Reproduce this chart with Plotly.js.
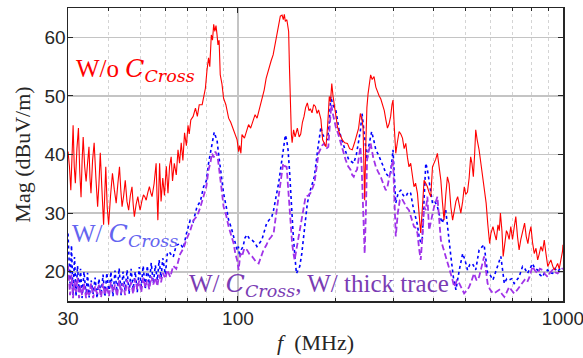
<!DOCTYPE html>
<html>
<head>
<meta charset="utf-8">
<script src="https://cdn.plot.ly/plotly-3.0.1.min.js"></script>
<style>
  html, body { margin: 0; padding: 0; background: #ffffff; }
  #chart { width: 583px; height: 358px; }
</style>
</head>
<body>
<div id="chart"></div>
<script>
// Radiated emission spectra, [frequency (MHz), magnitude (dBuV/m)]

// Without the cross capacitor
const withoutCross = [
  [30.0,40.5],[30.3,38],[30.6,33.9],[30.85,42],[31.1,45.0],[31.35,38],[31.6,35.1],[31.95,41],
  [32.3,44.5],[32.6,37],[32.9,32.7],[33.15,39],[33.4,43.0],[33.75,38],[34.1,35.4],[34.45,38.5],
  [34.8,41.3],[35.05,36],[35.3,33.4],[35.7,39],[36.1,42.0],[36.55,36],[37.0,31.1],[37.35,35],
  [37.7,40.3],[38.15,34],[38.6,28.0],[38.9,33],[39.2,37.9],[39.6,31],[40.0,28.0],[40.55,33],
  [41.1,36.8],[41.65,34],[42.2,31.7],[42.7,35],[43.2,37.9],[43.6,34],[44.0,31.1],[44.5,33],
  [45.0,35.6],[45.55,32],[46.1,30.5],[46.65,33],[47.2,34.5],[47.6,31.5],[48.0,29.4],[48.6,31.5],
  [49.2,32.8],[49.6,31.5],[50.0,30.5],[50.6,32],[51.2,33.1],[51.7,32.8],[52.2,32.2],[52.8,33.5],
  [53.4,34.5],[53.9,33.5],[54.4,32.8],[55.2,35],[56.0,38.5],[56.35,33],[56.7,28.8],[57.4,38.5],
  [58.0,32],[58.7,36],[59.4,33],[60.2,38],[60.9,33.4],[61.6,38],[62.3,39.6],[62.9,35.5],
  [63.7,38.5],[64.6,36.5],[65.4,40.8],[66.1,38.5],[66.9,42],[67.7,39],[68.5,43.7],[69.4,41.5],
  [70.2,45],[70.8,43.5],[71.6,45.9],[72.8,46.5],[74.0,47.9],[75.0,46.5],[76.0,48.5],[77.6,48.5],
  [78.4,50],[79.4,51.3],[80.3,54.4],[81.2,56.5],[81.9,55],[82.8,60.4],[83.5,59.5],[84.2,62.2],
  [84.9,61],[85.6,62],[86.2,60.5],[86.8,58.7],[87.5,59.5],[88.2,53.6],[89.3,52],[90.3,49.6],
  [91.8,48.5],[93.6,46.2],[95.0,45.5],[97.0,44],[98.2,43.5],[99.4,42.5],[100.5,40.5],[101.2,41.5],
  [102.1,40.2],[102.9,43.4],[104.7,42.8],[106.1,44],[107.8,45.1],[109.4,44.5],[111.3,45.8],[112.9,46.8],
  [114.5,46.2],[116.2,47.5],[118.4,49.6],[120.4,51],[122.1,53],[124.1,54.5],[126.5,56],[128.3,57],
  [130.6,59.3],[132.4,60.5],[134.0,62],[135,63.6],[136.7,63.8],[137.9,63.0],[138.9,63.9],[139.9,62.7],
  [141.4,63],[142.4,62],[143.2,61],[144.0,55],[145,48],[146.0,43.4],[146.8,42.0],[148.3,44.2],
  [149.9,43],[152.3,44.5],[154.3,43],[156,43.5],[157.9,45.5],[159.7,46.5],[161.5,48],[163.5,48.8],
  [165.4,47.5],[167,47.8],[169,47.1],[171.0,48.5],[173.1,48.2],[175.1,47],[177,47.6],[180,46],
  [182.2,42.5],[184.2,42],[186.6,41.3],[188.8,45],[191,49.9],[192.6,49],[194.4,52.1],[196.1,50],
  [197.6,48.8],[200,47],[202.4,44.7],[205.6,43.5],[209.5,42.5],[213,42],[217.2,41.9],[220.5,41],
  [224.7,40.8],[228.4,42],[232.5,43.6],[235.1,44.5],[238,47.0],[240.6,46],[242.6,44.7],[244,38],
  [245.4,32.2],[247.5,42],[249.3,48],[251.4,50.4],[253.7,52],[256,53.6],[258.8,52.8],[262.2,53.3],
  [265.6,51.5],[268.6,50.7],[272,50],[275,49.5],[278.3,48.7],[282,47.5],[285,46],[288.4,44.5],
  [291.6,45.2],[295,46.5],[297.8,48.5],[300,49.3],[302.5,45],[305.9,40.2],[309.2,42],[313.2,43.9],
  [317,43.5],[320.8,42.8],[324.6,41],[328.4,41.9],[332.3,39.5],[335.9,37.9],[340,38.5],[344.1,36],
  [348,34.5],[352,35.1],[356.6,33.4],[360.7,30],[365,26.6],[369.5,31],[373.8,35.6],[378.4,35.1],
  [382.7,34.5],[387.4,33.5],[392,32.8],[396.8,37.9],[401.4,38.5],[406.1,39.2],[410.8,40.2],[415.6,38],
  [421,35.6],[425.6,32],[430.6,28.8],[435.8,33],[441.1,36.2],[446.4,35],[452,31],[457.6,28.8],
  [463,30.5],[468.5,32],[474.3,32.8],[479.8,31],[485,30.0],[491.4,32],[497,34.5],[502.1,33.2],
  [508.5,33.6],[514.4,36],[520,39.6],[524.8,38.5],[530,36.2],[534.8,40],[539,44.2],[544.6,42.5],
  [552,40.8],[559,38.5],[565.9,36.2],[572,34],[580.3,31.7],[587.3,28],[594.8,24.8],[600,26.5],
  [609,27.7],[616,26.5],[623.6,25.4],[631,28],[637,27],[642,30.0],[649,27],[654.8,22.6],
  [663,25],[670,27],[675,26.6],[683,25.5],[691,27.7],[699.5,25.5],[707.6,27.5],[716,29.4],
  [724.6,26],[733,23.7],[742,25.5],[751,27],[762,28.3],[771,26],[780,24.8],[788,26.5],
  [797,27.7],[806,25],[816,23.1],[826,24],[836,22.0],[845,23],[855,24.3],[865.7,23.5],
  [876,25.4],[887,23],[898,20.9],[908,21.5],[918,22.0],[929.5,21],[940,20.3],[952,20.8],
  [963,21.4],[974,20.5],[986,22],[997,23.5],[1000,24.6]
];

// With the cross capacitor
const withCross = [
  [30.0,26.5],[30.43,18],[30.75,24.5],[31.08,16],[31.41,22.5],[31.75,15.8],[32.09,21],[32.43,16.5],
  [32.78,20.5],[33.13,15.5],[33.6,20],[34.1,16],[34.45,19.8],[34.85,15.6],[35.35,18.5],[35.85,16.2],
  [36.35,19],[36.85,15.5],[37.35,18.8],[37.9,16],[38.45,19.5],[38.95,15.7],[39.5,19.8],[40.1,16.3],
  [40.65,20],[41.25,15.8],[41.85,20.2],[42.45,16.5],[43.1,20.6],[43.7,16],[44.3,20],[44.95,16.8],
  [45.6,20.3],[46.25,16.2],[46.9,20.5],[47.6,17],[48.3,20],[49.0,16.5],[49.7,20.8],[50.4,17.5],
  [51.1,21],[51.85,17],[52.6,21],[53.35,17.8],[54.1,21.5],[54.9,18],[55.7,21.1],[56.5,18.5],
  [57.2,22],[58.0,19],[58.7,22.3],[59.8,19.5],[60.6,23],[61.6,23.4],
  [61.9,23.1],[63.2,22.5],[64.6,24.5],[66.4,24.8],[67.9,24],[69.4,26.5],[71.3,28.8],[72.8,28.5],
  [74.8,31.1],[76.6,32],[78.4,34.5],[79.9,35.5],[81.2,38.5],[82.2,40],[83.2,41.9],[83.9,42.5],
  [84.5,43.8],[85.5,43],[86.2,42.5],[87.0,40.5],[87.8,38.5],[88.9,36],[90.3,33.4],[92.1,31],
  [93.6,28.8],[95.4,27.5],[97.0,26.0],[98.2,24.5],[99.4,23.7],[100.3,24.3],[101.2,22.6],[102.5,23.8],
  [103.7,24.3],[105.1,25.8],[106.7,26.3],[108.5,25.6],[110.5,25.4],[112.4,25],[114.4,24.3],[116.2,24.8],
  [118.4,25.4],[120.4,26.8],[122.6,28.3],[124.6,28.8],[127.1,29.4],[128.7,30.5],[130.1,31.7],[131.7,33.5],
  [133.4,35.1],[135,37],[136.7,39.1],[138.4,41.5],[139.9,43.3],[141.2,42.5],[142.6,40.8],[144.0,37.5],
  [145,33.9],[146.4,30],[147.8,26.6],[149.5,23],[151.3,19.7],[152.9,20.2],[154.9,20.9],[157.1,23],
  [158.9,25.4],[161.2,28.5],[163.5,31.7],[167,33.9],[171.8,36.2],[175.9,40.8],[180,44.7],[181.9,43.5],
  [184.2,43.0],[188.6,42.5],[191,45.5],[193,49.9],[195.8,48.5],[200,47.6],[204.7,44.2],[208.6,42.5],
  [211.8,41.3],[216,40],[219.3,39.1],[223.5,38.8],[227.1,38.5],[231.4,40],[235.1,41.9],[238,44],
  [240.9,47.0],[243.1,45],[245.4,41.9],[249.6,39.1],[252.8,41.5],[257.8,43.9],[261.6,42.5],[265.6,40.8],
  [270.2,40],[275,39.1],[279.9,38],[285,36.8],[290,36.3],[295,36.8],[300,40.8],[303,36],
  [305.9,31.7],[311.4,33.5],[317,33.9],[322.7,33.0],[328.4,32.8],[334.1,33.6],[340,33.4],[346,31],
  [352,29.4],[356.6,28],[360.7,26.0],[365,25.0],[368.9,25.5],[373,31],[378.4,38.5],[382.5,37.5],
  [387.4,35.6],[396.8,31.7],[403.3,32],[410.8,31.1],[417.5,29.5],[425.6,28.3],[435.8,30.5],[443.9,26],
  [452,22.6],[460.2,19],[468.5,16.9],[479.8,20.3],[491.4,23.1],[499.5,22],[508.5,20.3],[516.8,21.2],
  [526.5,21.4],[539,20.3],[552,23.7],[562.8,24.2],[572,24.6],[586.3,19.7],[596,19.5],[609,18.6],
  [618.9,19.8],[631,20.9],[644,22.6],[660,18.0],[671.6,18.8],[683,18.6],[695.9,18.8],[707.6,18.0],
  [721.3,18.5],[733,19.1],[751,20.9],[763.6,20.5],[778,19.7],[791,20.5],[806,21.4],[819.6,20.5],
  [836,20.3],[849,19.5],[865.7,19.1],[880,20],[898,20.3],[911.6,19.8],[929.5,19.7],[945,20.5],
  [963,20.0],[979,20.5],[999,20.3]
];

// With the cross capacitor and a thick trace
const withCrossThick = [
  [30.0,21],[30.43,16],[30.75,19.5],[31.08,15.5],[31.41,18.5],[31.75,16.5],[32.09,19],[32.43,15.5],
  [32.78,17.5],[33.13,16],[33.6,18],[34.1,15.5],[34.45,17],[34.85,16],[35.35,18],[35.85,15.5],
  [36.35,17.5],[36.85,16.2],[37.35,17.8],[37.9,15.6],[38.45,18],[38.95,16],[39.5,17.5],[40.1,15.8],
  [40.65,18.2],[41.25,16.5],[41.85,17.8],[42.45,15.8],[43.1,18.5],[43.7,16.3],[44.3,18],[44.95,16],
  [45.6,18.6],[46.25,16.8],[46.9,18.2],[47.6,16.2],[48.3,18.8],[49.0,17],[49.7,18.5],[50.4,16.5],
  [51.1,19],[51.85,17.3],[52.6,18.6],[53.35,17],[54.1,19.2],[54.9,17.8],[55.7,19],[56.5,17.5],
  [57.2,19.5],[58.0,18.2],[58.7,19.8],[59.8,18.8],[60.6,20.3],[61.6,19.5],
  [61.9,19.1],[63.2,21],[64.6,20.5],[66.4,23],[68.0,24],[69.4,25.5],[71.3,27],[73,28.8],
  [74.9,29.5],[76.6,31],[78.4,32.8],[79.9,34.5],[81.2,37.4],[82.2,38.5],[83.2,40.2],[84.2,39.5],
  [85.2,40.5],[86.1,40],[86.8,39.1],[87.6,37.5],[88.2,35.6],[89.3,33.5],[90.3,31.1],[92.1,29.5],
  [93.6,27.7],[95.4,26],[97.0,24.8],[98.2,23],[99.4,22.0],[100.5,20.3],[101.7,23.1],[102.9,22.6],
  [104.6,24],[106.7,23.7],[108.5,23],[110.5,22.6],[112.4,22],[113.9,21.6],[115.8,21.4],[117.9,22.5],
  [119.8,23.7],[122.2,24.5],[124.2,25.4],[126.8,26],[128.8,26.6],[130.1,28.5],[131.7,30.5],[134.3,33.9],
  [136.0,36.5],[137.8,38.5],[139.4,38],[141.2,37.9],[142.6,34.5],[144.3,30.5],[145.5,27.5],[146.8,24.8],
  [148.3,23],[149.4,22.0],[151,23.5],[153,25.4],[155.4,27.5],[158,29.4],[159.7,31],[161.5,32.8],
  [164.4,33],[167,33.4],[169.4,34.2],[171.8,35.1],[174.3,37.5],[177,40.2],[181.3,41.5],[184.2,41.9],
  [187,41],[189.7,41.3],[191.7,45],[193.7,48.5],[195.8,47],[200,44.7],[203.5,43.5],[207,41.9],
  [210.7,40.5],[214.4,39.1],[218.2,38],[222,37.4],[224.7,36.5],[227.1,36.2],[229.8,37],[232.5,37.4],
  [235.5,39.5],[238,41.3],[240.2,38],[242,33.4],[243.7,27],[245.4,23.1],[247.5,30],[249.6,39.1],
  [252.4,40.5],[256,41.9],[260.7,39.5],[265.6,37.9],[270.2,37],[275,36.2],[279.9,35],[285,33.9],
  [288.4,34.5],[291.6,35.6],[295.6,37.5],[300,39.1],[302.5,33],[305.9,26.0],[310.3,30],[314.8,32.2],
  [319.3,32.5],[324.6,31.7],[330.2,31],[335.9,30.5],[341.9,29],[348,27.7],[352,27.5],[356.6,26.6],
  [360.7,24],[365,22.0],[369.5,26],[373.8,31.1],[378.4,30.5],[382.7,32.8],[387.4,27.1],[393.4,29],
  [401.4,31.1],[410.8,32.8],[416,29],[421,25.4],[428.3,24],[435.8,22.6],[446.4,20.9],[455.2,19],
  [462.9,17.4],[471.3,18.5],[479.8,18.0],[489,17],[496.5,16.3],[506,16.8],[514.4,17.4],[523.8,18.5],
  [532.5,19.7],[542.5,18.5],[552,19.1],[562.8,21],[572,22.6],[580.3,20],[586.3,18.0],[596,17],
  [609,16.3],[621,16.5],[637,16.9],[649,16.2],[660,15.7],[671.6,16.5],[683,17.4],[695.9,16.8],
  [707.6,16.3],[721.3,16.8],[733,17.4],[747.6,18],[762,18.6],[776,18.2],[789,19.1],[797,20],
  [806,20.9],[819.6,20.2],[836,19.7],[849,20.5],[865.7,20.3],[880,19.6],[898,19.1],[911.6,19.8],
  [929.5,20.3],[945,19.9],[963,19.7],[979,20.2],[999,20.6]
];

const xTickVals = [30, 100, 1000];
const xTickText = ['30', '100', '1000'];
const xMinorVals = [40, 50, 60, 70, 80, 90, 200, 300, 400, 500, 600, 700, 800, 900];
const yTickVals = [20, 30, 40, 50, 60];
const yTickText = ['20', '30', '40', '50', '60'];

const xs = pts => pts.map(p => p[0]);
const ys = pts => pts.map(p => p[1]);

const traces = [
  {
    x: xs(withCross), y: ys(withCross), type: 'scatter', mode: 'lines',
    line: { color: '#0000ff', width: 1.6, dash: 'dot' }, hoverinfo: 'skip'
  },
  {
    x: xs(withCrossThick), y: ys(withCrossThick), type: 'scatter', mode: 'lines',
    line: { color: '#a033e8', width: 1.8, dash: '6px,3px' }, hoverinfo: 'skip'
  },
  {
    x: xs(withoutCross), y: ys(withoutCross), type: 'scatter', mode: 'lines',
    line: { color: '#ff0000', width: 1.1 }, hoverinfo: 'skip'
  }
];

const axisColor = '#262626';
const tickFont = { family: "'Liberation Sans', Arial, sans-serif", size: 19, color: axisColor };
const mathFont = "DejaVu Serif";
const textFont = "'Liberation Serif', 'Times New Roman', serif";

function cross() {
  return "<span style=\"font-family:'" + mathFont + "'\"><i>C</i><sub><i>Cross</i></sub></span>";
}

const layout = {
  width: 583, height: 358,
  margin: { l: 68, r: 20, t: 8, b: 57 },
  paper_bgcolor: '#ffffff', plot_bgcolor: '#ffffff',
  showlegend: false,
  xaxis: {
    type: 'log', range: [Math.log10(29.995), Math.log10(1000.3)],
    tickvals: xTickVals, ticktext: xTickText,
    ticks: 'inside', ticklen: 5, tickwidth: 1, tickcolor: axisColor,
    ticklabeloverflow: 'allow',
    showline: true, linecolor: axisColor, linewidth: 1.5, mirror: 'ticks',
    showgrid: true, gridcolor: '#c4c4c4', gridwidth: 1.6, zeroline: false,
    tickfont: tickFont,
    minor: {
      tickvals: xMinorVals, ticks: 'inside', ticklen: 3, tickcolor: axisColor,
      showgrid: true, gridcolor: '#d4d4d4', gridwidth: 1, griddash: 'dot'
    },
    title: { text: '<i>f</i>  (MHz)', font: { family: textFont, size: 22, color: axisColor }, standoff: 6 }
  },
  yaxis: {
    range: [15, 65],
    tickvals: yTickVals, ticktext: yTickText,
    ticks: 'inside', ticklen: 5, tickwidth: 1, tickcolor: axisColor,
    ticklabelstandoff: -3,
    showline: true, linecolor: axisColor, linewidth: 1.5, mirror: 'ticks',
    showgrid: true, gridcolor: '#c4c4c4', gridwidth: 1.6, zeroline: false,
    tickfont: tickFont,
    title: { text: 'Mag (dBuV/m)', font: { family: textFont, size: 22, color: axisColor }, standoff: 8 }
  },
  annotations: [
    {
      xref: 'paper', yref: 'paper', x: 0.012, y: 0.79, xanchor: 'left', yanchor: 'middle',
      text: 'W/o ' + cross(), showarrow: false,
      font: { family: textFont, size: 25, color: '#ff0000' }
    },
    {
      xref: 'paper', yref: 'paper', x: 0.004, y: 0.225, xanchor: 'left', yanchor: 'middle',
      text: 'W/ ' + cross(), showarrow: false,
      font: { family: textFont, size: 25, color: '#6464f0' }
    },
    {
      xref: 'paper', yref: 'paper', x: 0.24, y: 0.055, xanchor: 'left', yanchor: 'middle',
      text: 'W/ ' + cross() + ', W/ thick trace', showarrow: false,
      font: { family: textFont, size: 25, color: '#7a3cb4' }
    }
  ]
};

Plotly.newPlot('chart', traces, layout, { staticPlot: true, displayModeBar: false });
</script>
</body>
</html>
